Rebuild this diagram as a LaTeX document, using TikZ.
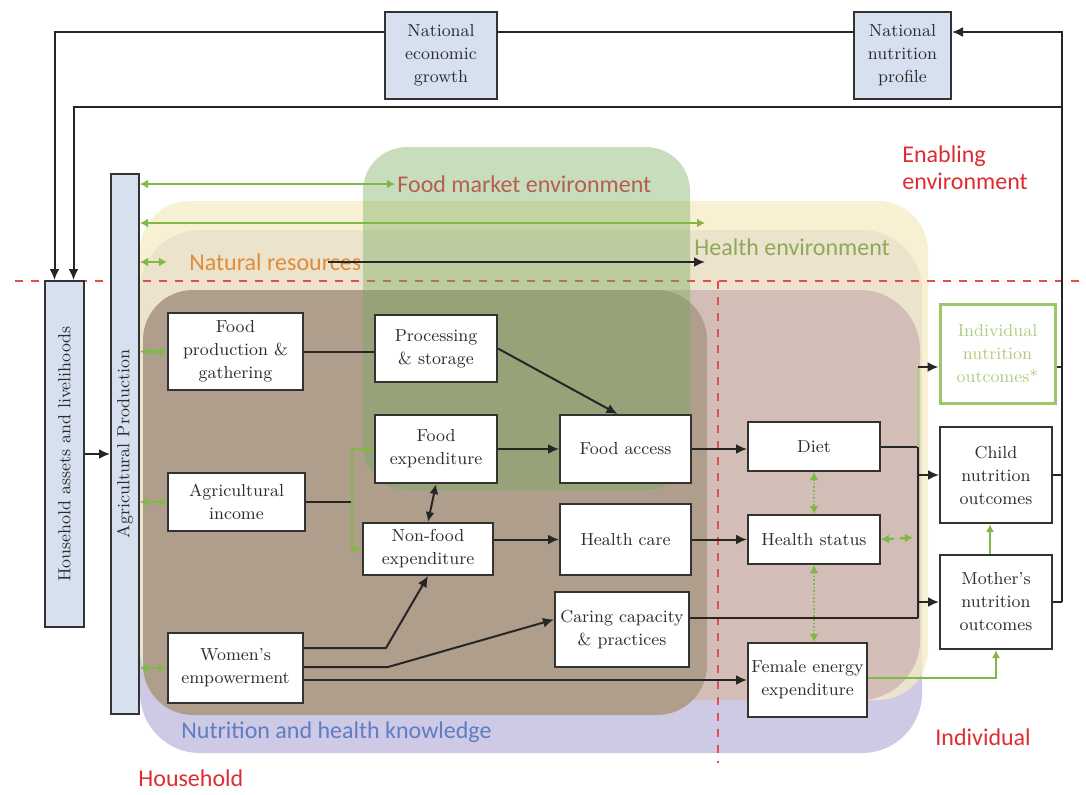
\documentclass[tikz,border=0pt]{standalone}
\usepackage{fontspec}
\newfontfamily\labelfont{Carlito}
\usepackage{tikz}
\usetikzlibrary{arrows.meta,positioning,calc,backgrounds}
\definecolor{BoxBlue}{RGB}{214,224,238}
\definecolor{LineGreen}{RGB}{130,185,70}
\definecolor{PaleGreen}{RGB}{175,205,130}
\definecolor{CreamBg}{RGB}{246,236,196}
\definecolor{LilacBg}{RGB}{206,201,228}
\definecolor{TaupeBg}{RGB}{176,158,140}
\definecolor{RoseBg}{RGB}{210,190,182}
\definecolor{MarketBg}{RGB}{115,170,90}
\definecolor{LevelRed}{RGB}{222,45,50}
\definecolor{MarketText}{RGB}{180,95,80}
\definecolor{HealthText}{RGB}{140,170,90}
\definecolor{NatText}{RGB}{225,140,55}
\definecolor{KnowText}{RGB}{95,125,195}
\definecolor{TextGray}{RGB}{45,45,45}
\tikzset{
  basebox/.style={rectangle,draw=black!80,line width=1pt,fill=white,
    align=center,text=TextGray,font=\fontsize{8.7}{11.5}\selectfont,inner sep=1pt},
  sized/.style 2 args={minimum width=#1*0.5pt,minimum height=#2*0.5pt},
  natbox/.style={basebox,fill=BoxBlue},
  outbox/.style={basebox,draw=LineGreen!80,line width=1.5pt,text=PaleGreen},
  envlabel/.style={font=\labelfont\fontsize{12}{13.5}\selectfont,inner sep=1pt,anchor=west},
  line/.style={line width=1pt,color=black!85},
  arrow/.style={line,-{Latex[length=5.5pt,width=5pt]}},
  dblarrow/.style={line,{Latex[length=5pt,width=4.5pt]}-{Latex[length=5pt,width=4.5pt]}},
  greenarrow/.style={line width=1pt,color=LineGreen,-{Latex[length=4pt,width=4pt]}},
  greenlink/.style={line width=1.2pt,color=LineGreen,
    {Latex[length=4pt,width=4.5pt]}-{Latex[length=4pt,width=4.5pt]}},
  dotlink/.style={greenlink,line width=0.8pt,densely dotted},
  dashlink/.style={greenlink,dashed},
  levelline/.style={LevelRed!85,line width=1pt,dash pattern=on 4pt off 4pt}
}
\begin{document}
\begin{tikzpicture}[x=0.5pt,y=-0.5pt]
  \useasboundingbox (0,0) rectangle (1086,794);
  \node[natbox,sized={112}{87}] (growth) at (441,55.5) {National\\economic\\growth};
  \node[natbox,sized={97}{87}] (profile) at (902.5,55.5) {National\\nutrition\\profile};
  \node[natbox,sized={39}{346}] (assets) at (64.5,454) {\rotatebox{90}{Household assets and livelihoods}};
  \node[natbox,sized={28}{540}] (agprod) at (125,444) {\rotatebox{90}{Agricultural Production}};
  \node[basebox,sized={135}{77}] (foodprod) at (235.5,351.5) {Food\\production \&\\gathering};
  \node[basebox,sized={122}{67}] (storage) at (436,348.5) {Processing\\\& storage};
  \node[basebox,sized={122}{68},below=15.5pt of storage] (foodexp) {Food\\expenditure};
  \node[basebox,sized={137}{58}] (agincome) at (236.5,502) {Agricultural\\income};
  \node[basebox,sized={130}{52}] (nonfood) at (428,549) {Non-food\\expenditure};
  \node[basebox,sized={131}{68},right=30.5pt of foodexp] (access) {Food access};
  \node[basebox,sized={131}{71},below=9.5pt of access] (care) {Health care};
  \node[basebox,sized={134}{75}] (caring) at (622,629.5) {Caring capacity\\\& practices};
  \node[basebox,sized={135}{70}] (women) at (235.5,668) {Women's\\empowerment};
  \node[basebox,sized={132}{49}] (diet) at (814,446.5) {Diet};
  \node[basebox,sized={132}{49},below=21pt of diet] (status) {Health status};
  \node[basebox,sized={119}{74}] (energy) at (807.5,680) {Female energy\\expenditure};
  \node[outbox,sized={115}{99}] (indiv) at (997.5,353.5) {Individual\\nutrition\\outcomes*};
  \node[basebox,sized={112}{96}] (child) at (996,475) {Child\\nutrition\\outcomes};
  \node[basebox,sized={112}{94},below=15pt of child] (mother) {Mother's\\nutrition\\outcomes};

  \node[envlabel,text=MarketText] (market) at (395,184) {Food market environment};
  \node[envlabel,text=HealthText] (healthenv) at (692,247) {Health environment};
  \node[envlabel,text=NatText] (natural) at (187,262) {Natural resources};
  \node[envlabel,text=KnowText] (knowledge) at (179,732) {Nutrition and health knowledge};
  \node[envlabel,text=LevelRed,align=left] (enabling) at (900,168) {Enabling\\environment};
  \node[envlabel,text=LevelRed] (individual) at (933,737) {Individual};
  \node[envlabel,text=LevelRed] (household) at (136,778) {Household};

  \coordinate (rx) at (1062,32);
  \coordinate (ry) at (1062,107);
  \coordinate (jn) at (918,617.5);
  \coordinate (jo) at (918,367);
  \coordinate (split) at (352,502);
  \coordinate (henv) at (705,223);
  \coordinate (hsend) at (913,537.5);

  \draw[line] (rx -| growth.east) -- (rx -| profile.west);
  \draw[arrow] (rx -| growth.west) -| ([xshift=-5pt]assets.north);
  \draw[arrow] (ry) -| ([xshift=4.5pt]assets.north);
  \draw[arrow] (mother.east -| rx) -- (rx) -- (rx -| profile.east);
  \draw[line] (indiv.east |- jo) -- (jo -| rx);
  \draw[line] (child.east) -- (child.east -| rx);
  \draw[line] (mother.east) -- (mother.east -| rx);
  \draw[arrow] (assets.east) -- (assets.east -| agprod.west);

  \draw[greenlink] (agprod.east |- market.west) -- (market.west);
  \draw[greenlink] (agprod.east |- henv) -- (henv);
  \draw[greenlink] (agprod.east |- natural.west) -- ([xshift=-10pt]natural.west);
  \draw[arrow] ([xshift=-18pt]natural.east) -- (henv |- natural.east);
  \draw[greenlink] (agprod.east |- foodprod.west) -- (foodprod.west);
  \draw[greenlink] (agprod.east |- agincome.west) -- (agincome.west);
  \draw[greenlink] (agprod.east |- women.west) -- (women.west);

  \draw[line] (foodprod.east) -- (foodprod.east -| storage.west);
  \draw[arrow] (storage.east) -- ([xshift=-4pt]access.north);
  \draw[arrow] (foodexp.east) -- (access.west);
  \draw[dblarrow] (foodexp.south) -- (nonfood.north);
  \draw[arrow] (nonfood.east |- care.west) -- (care.west);
  \draw[line] (agincome.east) -- (split);
  \draw[greenarrow] (split) |- (foodexp.west);
  \draw[greenarrow] (split) |- (nonfood.west);
  \draw[arrow] ([yshift=10pt]women.east) -- ++(82,0) -- (nonfood.south);
  \draw[arrow] ([yshift=0.5pt]women.east) -- ++(84,0) -- ([yshift=5pt]caring.west);
  \draw[arrow] (women.east |- energy.west) -- (energy.west);
  \draw[arrow] (access.east) -- (access.east -| diet.west);
  \draw[arrow] (care.east) -- (care.east -| status.west);
  \draw[line] (diet.east) -| (jn);
  \draw[line] ([yshift=6pt]caring.east) -- (jn);
  \draw[arrow] (child.west -| jn) -- (child.west);
  \draw[arrow] (mother.west -| jn) -- (mother.west);
  \draw[line,PaleGreen] (diet.east -| jn) -- (jo);
  \draw[arrow] (jo) -- (jo -| indiv.west);
  \draw[dotlink] (diet.south) -- (status.north);
  \draw[dotlink] (status.south) -- (status.south |- energy.north);
  \draw[dashlink] (status.east) -- (hsend);
  \draw[greenarrow] ([xshift=-3pt]mother.north) -- ([xshift=-3pt]child.south);
  \draw[greenarrow] ([yshift=1pt]energy.east) -| (mother.south);

  \begin{scope}[on background layer]
    \fill[white] (0,0) rectangle (1086,794);
    \fill[LilacBg,rounded corners=30pt] (140,230) rectangle (922,753);
    \fill[CreamBg,fill opacity=0.75,rounded corners=25pt] (140,201) rectangle (928,700);
    \fill[RoseBg,rounded corners=30pt] (600,290) rectangle (920,700);
    \fill[TaupeBg,rounded corners=25pt] (143,290) rectangle (707,715);
    \draw[levelline] (15,281) -- (1080,281);
    \draw[levelline] (718,281) -- (718,763);
    \fill[MarketBg,fill opacity=0.4,rounded corners=22pt] (363,147) rectangle (690,490);
  \end{scope}
\end{tikzpicture}
\end{document}
